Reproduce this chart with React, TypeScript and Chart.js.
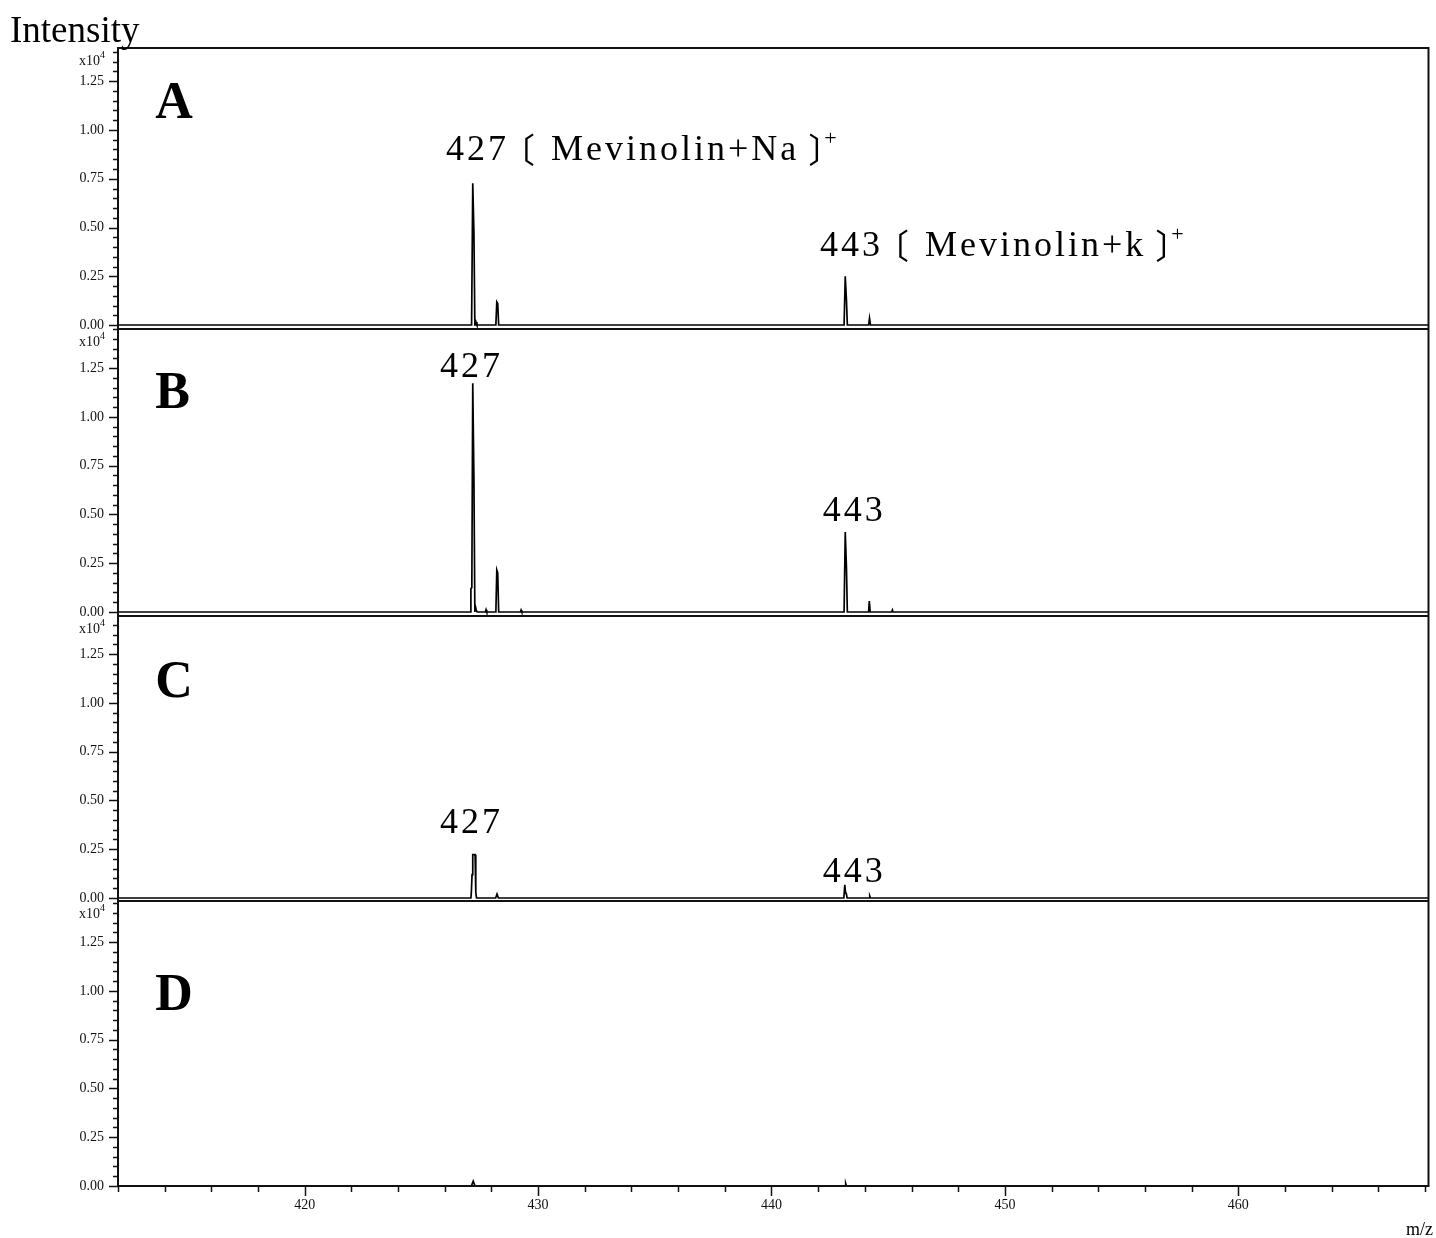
import { useEffect, useRef } from 'react';
import { Chart, registerables } from 'chart.js';

Chart.register(...registerables);

// m/z axis
const mzMin = 412;
const mzMax = 468.15;
const mzStep = 2;
const xTickLabels = ['420', '430', '440', '450', '460'];

// intensity axes (x10^4)
const yTickLabels = ['0.00', '0.25', '0.50', '0.75', '1.00', '1.25'];
const panelNames = ['A', 'B', 'C', 'D'];
const panelMin = [-0.0205, -0.0205, -0.0154, 0];
const panelMax = [1.4205, 1.451, 1.446, 1.4615];

// Spectrum A
const mzA = [412, 427.15, 427.2, 427.25, 427.29, 427.31, 427.34, 427.38, 428.19, 428.23, 428.27, 428.31, 443.11, 443.16, 443.21, 443.25, 444.16, 444.2, 444.24, 468.15];
const intA = [0, 0, 0.727, 0.48, 0, 0, 0.015, 0, 0, 0.118, 0.11, 0, 0, 0.25, 0.133, 0, 0, 0.035, 0, 0];

// Spectrum B
const mzB = [412, 427.1, 427.12, 427.16, 427.2, 427.25, 427.29, 427.32, 427.35, 427.39, 427.74, 427.77, 427.8, 428.19, 428.23, 428.27, 428.31, 429.24, 429.27, 429.3, 443.11, 443.16, 443.21, 443.25, 444.16, 444.19, 444.23, 445.15, 445.18, 445.21, 468.15];
const intB = [0, 0, 0.12, 0.125, 1.173, 0.69, 0, 0.025, 0.01, 0, 0, 0.012, 0, 0, 0.215, 0.2, 0, 0, 0.01, 0, 0, 0.41, 0.236, 0, 0, 0.056, 0, 0, 0.01, 0, 0];

// Spectrum C
const mzC = [412, 427.12, 427.14, 427.17, 427.2, 427.3, 427.33, 427.36, 428.18, 428.24, 428.3, 443.1, 443.14, 443.17, 443.21, 443.24, 444.18, 444.21, 444.24, 468.15];
const intC = [0, 0, 0.03, 0.12, 0.222, 0.222, 0.03, 0, 0, 0.02, 0, 0, 0.067, 0.03, 0.02, 0, 0, 0.01, 0, 0];

// Spectrum D
const mzD = [412, 427.14, 427.22, 427.3, 443.15, 443.18, 443.21, 468.15];
const intD = [0, 0, 0.025, 0, 0, 0.012, 0, 0];

const spectra = [
  { mz: mzA, int: intA },
  { mz: mzB, int: intB },
  { mz: mzC, int: intC },
  { mz: mzD, int: intD },
];

// layout of the stacked panels
const panelIds = ['yA', 'yB', 'yC', 'yD'];
const panelHeights = [281, 287, 285, 285];
const letterAt = [
  { mz: 413.6, y: 1.062 },
  { mz: 413.6, y: 1.046 },
  { mz: 413.6, y: 1.03 },
  { mz: 413.6, y: 0.903 },
];
// peak labels: nominal mass, optional ion name in brackets
const peakLabels = [
  { panel: 0, mz: 426.05, y: 0.846, num: '427', ion: 'Mevinolin+Na' },
  { panel: 0, mz: 442.08, y: 0.354, num: '443', ion: 'Mevinolin+k' },
  { panel: 1, mz: 425.8, y: 1.205, num: '427', ion: '' },
  { panel: 1, mz: 442.2, y: 0.467, num: '443', ion: '' },
  { panel: 2, mz: 425.8, y: 0.333, num: '427', ion: '' },
  { panel: 2, mz: 442.2, y: 0.082, num: '443', ion: '' },
];

const SERIF = "'Liberation Serif', 'Noto Sans CJK SC', serif";
const CJK = "'Noto Sans CJK SC', 'Liberation Serif', serif";

const isMultiple = (v: number, step: number) => Math.abs(v / step - Math.round(v / step)) < 1e-6;

// draws text so that its ink starts at x
const fillInkLeft = (ctx: CanvasRenderingContext2D, text: string, x: number, y: number) => {
  const m = ctx.measureText(text);
  ctx.fillText(text, x + m.actualBoundingBoxLeft, y);
  return x + m.actualBoundingBoxRight + m.actualBoundingBoxLeft;
};

const decorations = {
  id: 'decorations',
  afterDraw(chart: any) {
    const ctx: CanvasRenderingContext2D = chart.ctx;
    const { left, right, top, bottom } = chart.chartArea;
    const xs = chart.scales.x;
    ctx.save();
    ctx.strokeStyle = '#111';
    ctx.fillStyle = '#000';

    // outer frame
    ctx.lineWidth = 2;
    ctx.strokeRect(left, top, right - left, bottom - top);

    panelIds.forEach((id, i) => {
      const s = chart.scales[id];
      // separator between panels
      if (i < panelIds.length - 1) {
        ctx.lineWidth = 2;
        ctx.beginPath();
        ctx.moveTo(left, s.bottom);
        ctx.lineTo(right, s.bottom);
        ctx.stroke();
      }
      // y tick marks
      ctx.lineWidth = 1.5;
      s.ticks.forEach((t: any) => {
        const py = Math.round(s.getPixelForValue(t.value)) + 0.5;
        const len = isMultiple(t.value, 0.25) ? 9 : 5;
        ctx.beginPath();
        ctx.moveTo(left - len, py);
        ctx.lineTo(left, py);
        ctx.stroke();
      });
      // exponent marker
      ctx.fillStyle = '#111';
      ctx.textBaseline = 'alphabetic';
      ctx.textAlign = 'right';
      ctx.font = `14px ${SERIF}`;
      ctx.fillText('x10', 100, s.top + 17);
      ctx.font = `10px ${SERIF}`;
      ctx.textAlign = 'left';
      ctx.fillText('4', 100, s.top + 10);

      // panel letter
      ctx.fillStyle = '#000';
      ctx.font = `bold 52px ${SERIF}`;
      ctx.textAlign = 'left';
      ctx.fillText(panelNames[i], xs.getPixelForValue(letterAt[i].mz), s.getPixelForValue(letterAt[i].y));
    });

    // x tick marks
    ctx.lineWidth = 1.5;
    ctx.strokeStyle = '#111';
    xs.ticks.forEach((t: any) => {
      const px = Math.round(xs.getPixelForValue(t.value)) + 0.5;
      const len = isMultiple(t.value, 10) ? 10 : 6;
      ctx.beginPath();
      ctx.moveTo(px, bottom);
      ctx.lineTo(px, bottom + len);
      ctx.stroke();
    });

    // peak annotations
    ctx.fillStyle = '#000';
    ctx.textAlign = 'left';
    peakLabels.forEach((a) => {
      const s = chart.scales[panelIds[a.panel]];
      const px = xs.getPixelForValue(a.mz);
      const py = s.getPixelForValue(a.y);
      ctx.font = `36px ${SERIF}`;
      (ctx as any).letterSpacing = '3px';
      const numEnd = fillInkLeft(ctx, a.num, px, py);
      (ctx as any).letterSpacing = '0px';
      if (a.ion) {
        ctx.font = `34px ${CJK}`;
        fillInkLeft(ctx, '〔', numEnd + 20, py + 3);
        ctx.font = `36px ${SERIF}`;
        (ctx as any).letterSpacing = '3px';
        const ionEnd = fillInkLeft(ctx, a.ion, px + 106, py);
        (ctx as any).letterSpacing = '0px';
        ctx.font = `34px ${CJK}`;
        const brEnd = fillInkLeft(ctx, '〕', ionEnd + 13, py + 3);
        ctx.font = `22px ${SERIF}`;
        fillInkLeft(ctx, '+', brEnd + 7, py - 15);
      }
    });

    // axis titles
    ctx.font = `37px ${SERIF}`;
    ctx.textAlign = 'left';
    ctx.fillText('Intensity', 10, 42);
    ctx.font = `18px ${SERIF}`;
    ctx.textAlign = 'right';
    ctx.fillText('m/z', 1433, 1235);
    ctx.restore();
  },
};

export default function App() {
  const ref = useRef<HTMLCanvasElement>(null);

  useEffect(() => {
    const canvas = ref.current;
    if (!canvas) return;

    const datasets = spectra.map((sp, i) => ({
      label: panelNames[i],
      data: sp.mz.map((m, k) => ({ x: m, y: sp.int[k] })),
      yAxisID: panelIds[i],
      borderColor: '#000',
      borderWidth: 1.7,
      pointRadius: 0,
      tension: 0,
      fill: false,
    }));

    const scales: any = {
      x: {
        type: 'linear',
        position: 'bottom',
        min: mzMin,
        max: mzMax,
        grid: { display: false, drawTicks: false },
        border: { display: false },
        ticks: {
          stepSize: mzStep,
          autoSkip: false,
          includeBounds: false,
          maxRotation: 0,
          padding: 11,
          color: '#111',
          font: { family: SERIF, size: 14 },
          callback: (v: number) => (isMultiple(v, 10) ? xTickLabels[Math.round((v - 420) / 10)] ?? '' : ''),
        },
        afterFit: (s: any) => {
          s.height = 52;
        },
      },
    };
    panelIds.forEach((id, i) => {
      scales[id] = {
        type: 'linear',
        position: 'left',
        stack: 'spectra',
        stackWeight: panelHeights[i],
        weight: panelIds.length - i,
        min: panelMin[i],
        max: panelMax[i],
        grid: { display: false, drawTicks: false },
        border: { display: false },
        ticks: {
          stepSize: 0.05,
          autoSkip: false,
          includeBounds: false,
          padding: 14,
          color: '#111',
          font: { family: SERIF, size: 14 },
          callback: (v: number) => (isMultiple(v, 0.25) ? yTickLabels[Math.round(v / 0.25)] ?? '' : ''),
        },
        afterFit: (s: any) => {
          s.width = 118;
        },
      };
    });

    const chart = new Chart(canvas, {
      type: 'line',
      data: { datasets },
      options: {
        responsive: false,
        animation: false,
        layout: { padding: { left: 0, right: 4, top: 48, bottom: 0 } },
        plugins: { legend: { display: false }, tooltip: { enabled: false } },
        scales,
      },
      plugins: [decorations],
    });

    return () => chart.destroy();
  }, []);

  return (
    <div style={{ position: 'absolute', left: 0, top: 0, width: 1436, height: 1238, background: '#fff' }}>
      <canvas ref={ref} width={1436} height={1238} />
    </div>
  );
}
